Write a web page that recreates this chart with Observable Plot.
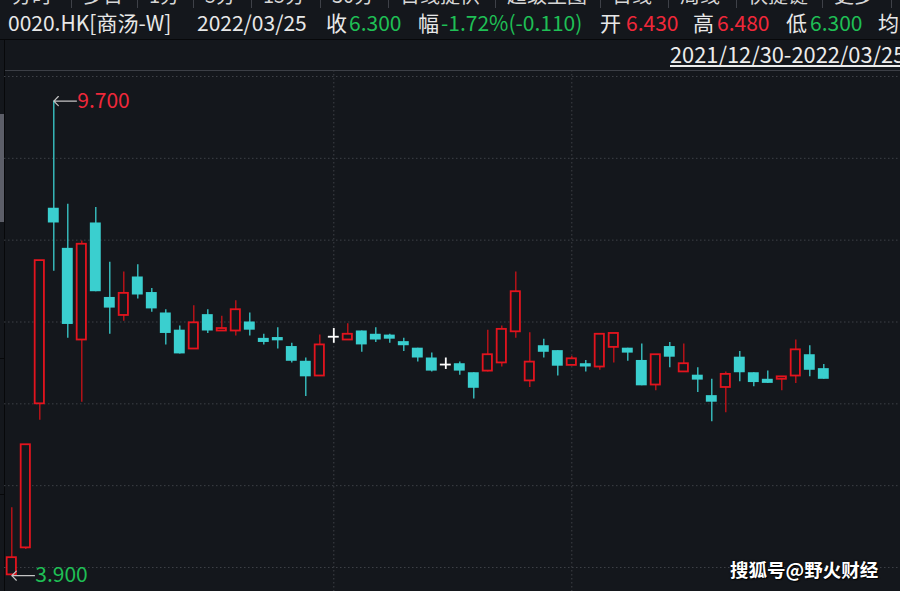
<!DOCTYPE html>
<html><head><meta charset="utf-8">
<script src="https://cdn.jsdelivr.net/npm/d3@7"></script>
<script src="https://cdn.jsdelivr.net/npm/@observablehq/plot@0.6"></script>
<style>
html,body{margin:0;padding:0;background:#14171c;width:900px;height:591px;overflow:hidden;font-family:"Noto Sans CJK SC","Noto Sans",sans-serif;}
#page{position:relative;width:900px;height:591px;background:#14171c;overflow:hidden;}
.abs{position:absolute;white-space:nowrap;}
#tabs{position:absolute;left:0;top:0;width:900px;height:8px;overflow:hidden;}
#tabs span{position:absolute;top:-15px;font-size:20px;line-height:20px;color:#d6d6d6;}
#tabs i{position:absolute;top:0;width:1px;height:8px;background:#3e4148;}
#info span{position:absolute;top:12px;font-size:21px;line-height:21px;color:#e8e8e8;white-space:nowrap;}
.g{color:#1fbf55 !important;}
.r{color:#f0283a !important;}
#range{left:670px;top:43px;font-size:21.8px;line-height:21px;color:#ececec;}
#uline{left:670px;top:65px;width:230px;height:1.5px;background:#ececec;}
#wm{left:730px;top:559px;font-size:18.5px;line-height:20px;font-weight:bold;color:#fff;text-shadow:1px 1px 1px #000,0 0 2px #000;}
#chart{position:absolute;left:0;top:70px;}
</style>
</head><body>
<div id="page">
  <div id="tabs"></div>
  <div id="info"></div>
  <div class="abs" style="left:0;top:39px;width:900px;height:1px;background:#07080a"></div>
  <div class="abs" style="left:4px;top:70px;width:896px;height:1px;background:#3c3f46"></div>
  <div class="abs" style="left:4px;top:39px;width:1px;height:552px;background:#07080a"></div>
  <div class="abs" style="left:0;top:114px;width:4px;height:108px;background:#5c5e68"></div>
  <div class="abs" style="left:0;top:358px;width:4px;height:1px;background:#07080a"></div>
  <div class="abs" style="left:0;top:494px;width:4px;height:1px;background:#07080a"></div>
  <div class="abs" id="range">2021/12/30-2022/03/25</div>
  <div class="abs" id="uline"></div>
  <div id="chart"></div>
  <div class="abs" id="wm">搜狐号@野火财经</div>
</div>
<script>
// ---- data ----
const dates = [
 "2021-12-30","2021-12-31",
 "2022-01-03","2022-01-04","2022-01-05","2022-01-06","2022-01-07","2022-01-10","2022-01-11","2022-01-12","2022-01-13","2022-01-14",
 "2022-01-17","2022-01-18","2022-01-19","2022-01-20","2022-01-21","2022-01-24","2022-01-25","2022-01-26","2022-01-27","2022-01-28","2022-01-31",
 "2022-02-04","2022-02-07","2022-02-08","2022-02-09","2022-02-10","2022-02-11","2022-02-14","2022-02-15","2022-02-16","2022-02-17","2022-02-18",
 "2022-02-21","2022-02-22","2022-02-23","2022-02-24","2022-02-25","2022-02-28",
 "2022-03-01","2022-03-02","2022-03-03","2022-03-04","2022-03-07","2022-03-08","2022-03-09","2022-03-10","2022-03-11",
 "2022-03-14","2022-03-15","2022-03-16","2022-03-17","2022-03-18","2022-03-21","2022-03-22","2022-03-23","2022-03-24","2022-03-25"
];
const opens  = [3.91,4.24,6.00,8.39,7.90,6.78,8.21,7.30,7.08,7.55,7.36,7.11,6.90,6.67,7.09,6.89,6.89,7.00,6.80,6.81,6.70,6.52,6.34,6.82,6.78,6.89,6.85,6.84,6.76,6.68,6.56,6.48,6.49,6.38,6.40,6.50,6.88,6.28,6.71,6.65,6.47,6.49,6.45,6.69,6.68,6.53,6.23,6.70,6.39,6.35,6.10,6.20,6.57,6.38,6.30,6.30,6.34,6.60,6.43];
const highs  = [4.73,5.50,7.75,9.70,8.44,7.99,8.40,7.73,7.61,7.70,7.41,7.15,6.95,7.20,7.15,7.07,7.26,7.11,6.85,6.93,6.74,6.56,6.84,6.92,6.98,6.89,6.93,6.85,6.80,6.68,6.62,6.56,6.51,6.38,6.90,6.95,7.61,6.87,6.79,6.65,6.58,6.53,6.85,6.86,6.68,6.73,6.60,6.75,6.73,6.44,6.30,6.39,6.64,6.38,6.40,6.33,6.78,6.71,6.48];
const lows   = [3.90,4.22,5.80,7.62,6.80,6.02,7.37,6.85,7.01,7.28,7.12,6.72,6.61,6.67,6.86,6.89,6.83,6.83,6.72,6.67,6.50,6.09,6.34,6.74,6.78,6.63,6.75,6.74,6.64,6.51,6.39,6.42,6.35,6.06,6.39,6.45,6.80,6.20,6.56,6.34,6.47,6.39,6.41,6.50,6.52,6.22,6.16,6.44,6.39,6.14,5.78,5.89,6.27,6.21,6.25,6.16,6.25,6.33,6.30];
const closes = [4.12,5.50,7.75,8.21,6.97,7.95,7.37,7.17,7.35,7.33,7.16,6.86,6.61,6.99,6.89,6.92,7.15,6.90,6.75,6.77,6.52,6.33,6.72,6.82,6.85,6.72,6.78,6.79,6.71,6.56,6.40,6.48,6.40,6.19,6.60,6.91,7.37,6.51,6.63,6.46,6.55,6.45,6.85,6.86,6.62,6.22,6.60,6.57,6.49,6.29,6.02,6.36,6.38,6.26,6.25,6.33,6.66,6.41,6.30];
const priceGrid = [4,5,6,7,8,9,10];
const tabLabels = ["分时","多日","1分","5分","15分","30分","日线提供","超级主图","日线","周线","快捷键","更多"];
const tabSeps = [71,137,193,251,320,388,495,600,668,736,822,891];
const infoTexts = [
 ["0020.HK[商汤-W]",8,""],["2022/03/25",197,""],["收",326,""],["6.300",349,"g"],
 ["幅",418,""],["-1.72%(-0.110)",441,"g"],["开",600,""],["6.430",626,"r"],
 ["高",693,""],["6.480",717,"r"],["低",786,""],["6.300",810,"g"],["均",878,""]
];

// ---- header ----
const tabs = document.getElementById("tabs");
let prev = 0;
tabSeps.forEach((s,k)=>{
  const sp = document.createElement("span");
  sp.textContent = tabLabels[k];
  sp.style.left = (prev + 12) + "px";
  tabs.appendChild(sp);
  const sep = document.createElement("i"); sep.style.left = s + "px"; tabs.appendChild(sep);
  prev = s;
});
const info = document.getElementById("info");
infoTexts.forEach(([t,x,c])=>{
  const sp = document.createElement("span");
  sp.textContent = t; sp.style.left = x + "px"; if (c) sp.className = c;
  info.appendChild(sp);
});

// ---- chart ----
const bars = dates.map((d,i)=>({i, date:d, o:opens[i], h:highs[i], l:lows[i], c:closes[i]}));
const up = bars.filter(d=>d.c>d.o), down = bars.filter(d=>d.c<d.o), flat = bars.filter(d=>d.c===d.o);
const monthStarts = bars.filter((d,i)=>i>0 && d.date.slice(5,7)!==bars[i-1].date.slice(5,7) && d.date.slice(0,4)===bars[i-1].date.slice(0,4)).map(d=>d.i);
const hiBar = d3.greatest(bars, d=>d.h), loBar = d3.least(bars, d=>d.l);
const hiAnn = [{i:hiBar.i, v:hiBar.h}], loAnn = [{i:loBar.i, v:loBar.l}];

const RED = "#e3141e", WICKRED = "#cc1218", CYAN = "#3acfcf", BG = "#14171c", GRID = "#3d4046";
const half = 0.39, halfUp = 0.33;

const plot = Plot.plot({
  width: 900, height: 521,
  marginTop: 6, marginBottom: 24, marginLeft: 4, marginRight: 0,
  x: {domain: [-0.5214, 63.4786], axis: null},
  y: {domain: [4, 10], axis: null},
  style: {background: "transparent", fontFamily: "'Noto Sans CJK SC','Noto Sans',sans-serif", overflow: "visible"},
  marks: [
    Plot.ruleY(priceGrid, {stroke: GRID, strokeDasharray: "1.5,2.5", strokeWidth: 1}),
    Plot.ruleX(monthStarts, {x: d=>d, stroke: GRID, strokeDasharray: "1.5,2.5", strokeWidth: 1, insetTop: -6, insetBottom: -24}),
    Plot.ruleX(up, {x: "i", y1: "l", y2: "h", stroke: WICKRED, strokeWidth: 1.3}),
    Plot.ruleX(down, {x: "i", y1: "l", y2: "h", stroke: CYAN, strokeWidth: 1.3}),
    Plot.ruleX(flat, {x: "i", y1: "l", y2: "h", stroke: "#ffffff", strokeWidth: 1.8}),
    Plot.ruleY(flat, {y: "o", x1: d=>d.i-half, x2: d=>d.i+half, stroke: "#ffffff", strokeWidth: 1.8}),
    Plot.rect(down, {x1: d=>d.i-half, x2: d=>d.i+half, y1: "o", y2: "c", fill: CYAN}),
    Plot.rect(up, {x1: d=>d.i-halfUp, x2: d=>d.i+halfUp, y1: "o", y2: "c", fill: BG, stroke: RED, strokeWidth: 1.8}),
    Plot.arrow(hiAnn, {x1: d=>d.i+1.62, x2: "i", y1: "v", y2: "v", stroke: "#c4c4c4", strokeWidth: 1.2, headAngle: 90, headLength: 8}),
    Plot.arrow(loAnn, {x1: d=>d.i+1.62, x2: "i", y1: "v", y2: "v", stroke: "#c4c4c4", strokeWidth: 1.2, headAngle: 90, headLength: 8}),
    Plot.text(hiAnn, {x: "i", y: "v", text: d=>d.v.toFixed(3), dx: 23.5, textAnchor: "start", fill: "#f0283a", fontSize: 21}),
    Plot.text(loAnn, {x: "i", y: "v", text: d=>d.v.toFixed(3), dx: 23.5, textAnchor: "start", fill: "#1fbf55", fontSize: 21})
  ]
});
document.getElementById("chart").appendChild(plot);
</script>
</body></html>
